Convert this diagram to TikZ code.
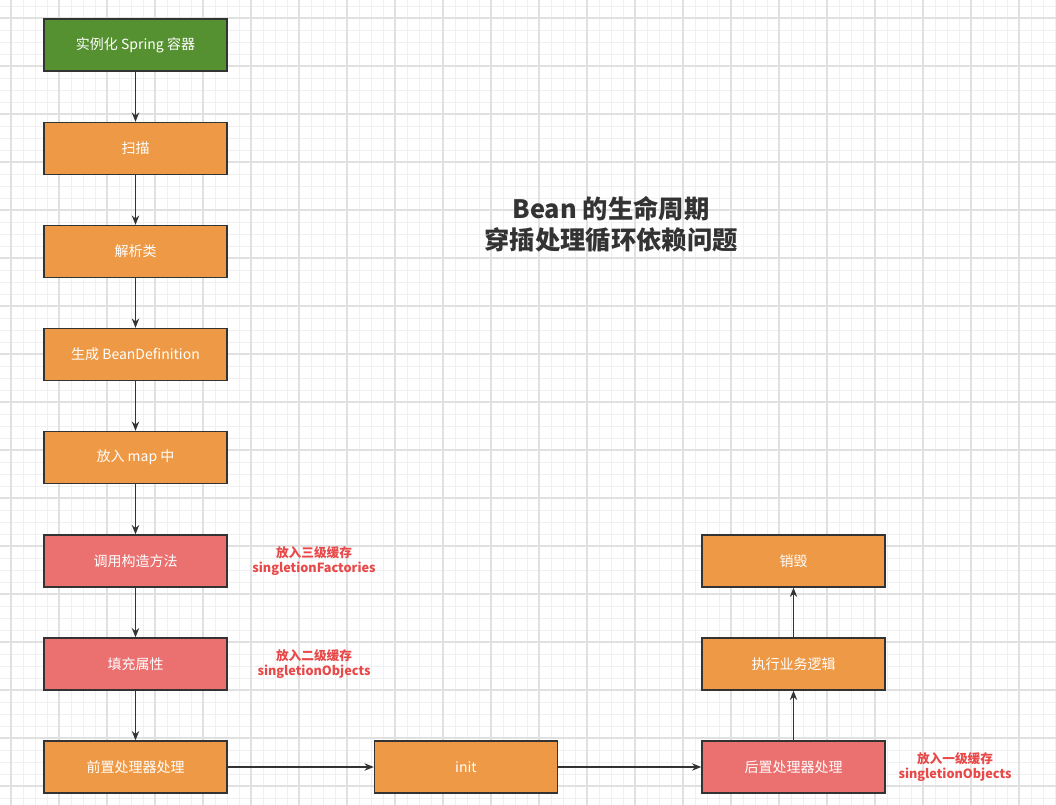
\documentclass[tikz,border=0pt]{standalone}
\usepackage{fontspec}
\setmainfont{Noto Sans CJK SC}
\usepackage{xcolor}
\usetikzlibrary{arrows.meta, positioning}

\definecolor{gridminor}{HTML}{F0F0F0}
\definecolor{gridmajor}{HTML}{E0E0E0}
\definecolor{startgreen}{HTML}{559130}
\definecolor{stepor}{HTML}{EE9946}
\definecolor{stepred}{HTML}{EB7070}
\definecolor{notered}{HTML}{E84848}
\definecolor{linegray}{HTML}{333333}

\tikzset{
	flowbox/.style = {draw=linegray, line width=1pt, fill=stepor, text=white,
		minimum width=137.25pt, minimum height=39pt, inner sep=0pt,
		font=\fontsize{10.5}{12}\selectfont},
	startbox/.style = {flowbox, fill=startgreen},
	cachebox/.style = {flowbox, fill=stepred},
	note/.style = {text=notered, align=center, font=\bfseries\fontsize{9.5}{11.5}\selectfont},
	flow/.style = {draw=linegray, line width=1.1pt, -{Stealth[length=7pt, width=5.5pt]}}
}

\begin{document}
\begin{tikzpicture}[x=0.75pt, y=-0.75pt]
				\useasboundingbox (0, 0) rectangle (1056, 805);
				\fill[white] (0, 0) rectangle (1056, 805);

				% grid
				\foreach \gx in {-1, 11, ..., 1056}
					\draw[gridminor, line width=0.6pt] (\gx, 0) -- (\gx, 805);
				\foreach \gy in {6, 18, ..., 805}
					\draw[gridminor, line width=0.6pt] (0, \gy) -- (1056, \gy);
				\foreach \gx in {11, 59, ..., 1056}
					\draw[gridmajor, line width=0.9pt] (\gx, 0) -- (\gx, 805);
				\foreach \gy in {18, 66, ..., 805}
					\draw[gridmajor, line width=0.9pt] (0, \gy) -- (1056, \gy);

				% left column
				\node[startbox] (start) at (135.5, 45) {实例化 Spring 容器};
				\node[flowbox] (scan) at (135.5, 148.5) {扫描};
				\node[flowbox] (parse) at (135.5, 251.5) {解析类};
				\node[flowbox] (bdef) at (135.5, 354.5) {生成 BeanDefinition};
				\node[flowbox] (putmap) at (135.5, 457.5) {放入 map 中};
				\node[cachebox] (ctor) at (135.5, 561) {调用构造方法};
				\node[cachebox] (fill) at (135.5, 664) {填充属性};
				\node[flowbox] (preproc) at (135.5, 767) {前置处理器处理};

				% bottom row and right column
				\node[flowbox] (init) at (466, 767) {init};
				\node[cachebox] (postproc) at (793.5, 767) {后置处理器处理};
				\node[flowbox] (business) at (793.5, 664) {执行业务逻辑};
				\node[flowbox] (destroy) at (793.5, 561) {销毁};

				% notes
				\node[note] (note3) at (314, 561) {放入三级缓存\\singletionFactories};
				\node[note] (note2) at (314, 664) {放入二级缓存\\singletionObjects};
				\node[note] (note1) at (955, 767) {放入一级缓存\\singletionObjects};

				\node[text=linegray, align=center, font=\bfseries\fontsize{19}{23.5}\selectfont]
					(title) at (611, 224.5) {Bean 的生命周期\\穿插处理循环依赖问题};

				\draw[flow] (start) -- (scan);
				\draw[flow] (scan) -- (parse);
				\draw[flow] (parse) -- (bdef);
				\draw[flow] (bdef) -- (putmap);
				\draw[flow] (putmap) -- (ctor);
				\draw[flow] (ctor) -- (fill);
				\draw[flow] (fill) -- (preproc);
				\draw[flow] (preproc) -- (init);
				\draw[flow] (init) -- (postproc);
				\draw[flow] (postproc) -- (business);
				\draw[flow] (business) -- (destroy);
			\end{tikzpicture}
\end{document}
